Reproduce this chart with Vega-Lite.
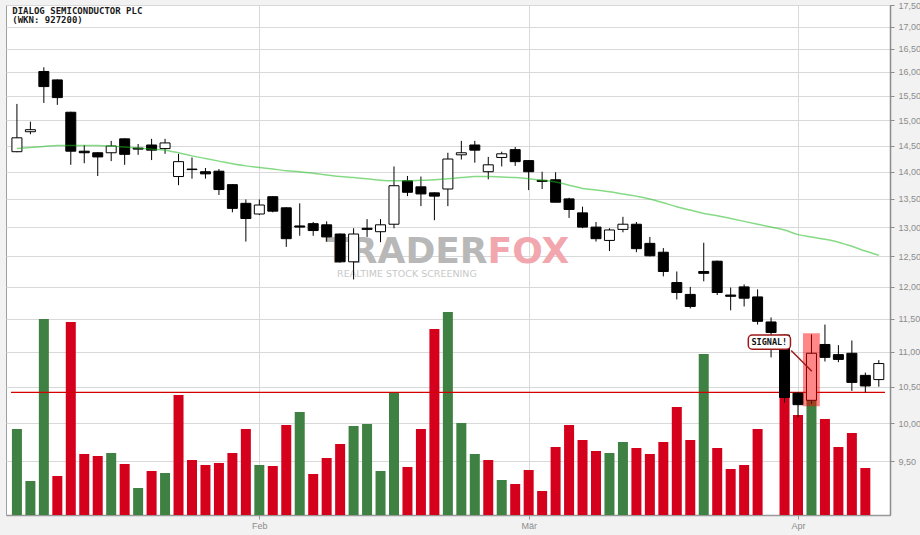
{
  "$schema": "https://vega.github.io/schema/vega-lite/v6.json",
  "width": 884,
  "height": 510,
  "autosize": {"type": "none"},
  "padding": {"left": 6, "top": 5, "right": 30, "bottom": 20},
  "background": "#f2f2f2",
  "config": {
    "view": {"fill": "white", "stroke": "#a0a0a0", "strokeWidth": 1},
    "axis": {"labelFont": "Liberation Sans", "labelFontSize": 9, "labelColor": "#8c8c8c"}
  },
  "datasets": {
    "bars": [
      {"i": 0, "open": 14.38, "high": 15.33, "low": 14.37, "close": 14.65, "ma": 14.44, "vol": 86, "vcol": "up"},
      {"i": 1, "open": 14.77, "high": 14.97, "low": 14.72, "close": 14.81, "ma": 14.46, "vol": 34, "vcol": "up"},
      {"i": 2, "open": 16.01, "high": 16.10, "low": 15.35, "close": 15.69, "ma": 14.48, "vol": 196, "vcol": "up"},
      {"i": 3, "open": 15.83, "high": 15.84, "low": 15.31, "close": 15.46, "ma": 14.5, "vol": 39, "vcol": "down"},
      {"i": 4, "open": 15.16, "high": 15.17, "low": 14.13, "close": 14.39, "ma": 14.5, "vol": 193, "vcol": "down"},
      {"i": 5, "open": 14.39, "high": 14.51, "low": 14.16, "close": 14.36, "ma": 14.5, "vol": 61, "vcol": "down"},
      {"i": 6, "open": 14.36, "high": 14.37, "low": 13.92, "close": 14.28, "ma": 14.5, "vol": 59, "vcol": "down"},
      {"i": 7, "open": 14.36, "high": 14.59, "low": 14.2, "close": 14.49, "ma": 14.49, "vol": 62, "vcol": "up"},
      {"i": 8, "open": 14.63, "high": 14.64, "low": 14.13, "close": 14.33, "ma": 14.47, "vol": 51, "vcol": "down"},
      {"i": 9, "open": 14.45, "high": 14.53, "low": 14.32, "close": 14.43, "ma": 14.45, "vol": 27, "vcol": "up"},
      {"i": 10, "open": 14.51, "high": 14.63, "low": 14.22, "close": 14.41, "ma": 14.43, "vol": 44, "vcol": "down"},
      {"i": 11, "open": 14.44, "high": 14.63, "low": 14.34, "close": 14.55, "ma": 14.41, "vol": 42, "vcol": "up"},
      {"i": 12, "open": 13.91, "high": 14.34, "low": 13.75, "close": 14.19, "ma": 14.36, "vol": 120, "vcol": "down"},
      {"i": 13, "open": 14.05, "high": 14.27, "low": 13.87, "close": 14.04, "ma": 14.3, "vol": 55, "vcol": "down"},
      {"i": 14, "open": 14.0, "high": 14.07, "low": 13.87, "close": 13.96, "ma": 14.25, "vol": 50, "vcol": "down"},
      {"i": 15, "open": 14.01, "high": 14.05, "low": 13.57, "close": 13.67, "ma": 14.2, "vol": 52, "vcol": "down"},
      {"i": 16, "open": 13.76, "high": 13.77, "low": 13.26, "close": 13.33, "ma": 14.15, "vol": 62, "vcol": "down"},
      {"i": 17, "open": 13.42, "high": 13.49, "low": 12.75, "close": 13.15, "ma": 14.11, "vol": 86, "vcol": "down"},
      {"i": 18, "open": 13.23, "high": 13.49, "low": 13.21, "close": 13.39, "ma": 14.08, "vol": 50, "vcol": "up"},
      {"i": 19, "open": 13.54, "high": 13.55, "low": 13.26, "close": 13.28, "ma": 14.05, "vol": 49, "vcol": "down"},
      {"i": 20, "open": 13.34, "high": 13.35, "low": 12.66, "close": 12.8, "ma": 14.02, "vol": 90, "vcol": "down"},
      {"i": 21, "open": 13.02, "high": 13.42, "low": 12.85, "close": 13.0, "ma": 14.0, "vol": 103, "vcol": "up"},
      {"i": 22, "open": 13.06, "high": 13.09, "low": 12.85, "close": 12.94, "ma": 13.97, "vol": 41, "vcol": "down"},
      {"i": 23, "open": 13.04, "high": 13.1, "low": 12.75, "close": 12.83, "ma": 13.94, "vol": 57, "vcol": "down"},
      {"i": 24, "open": 12.88, "high": 12.89, "low": 12.4, "close": 12.41, "ma": 13.91, "vol": 71, "vcol": "down"},
      {"i": 25, "open": 12.41, "high": 12.98, "low": 12.12, "close": 12.88, "ma": 13.89, "vol": 89, "vcol": "up"},
      {"i": 26, "open": 12.98, "high": 13.14, "low": 12.83, "close": 12.96, "ma": 13.87, "vol": 91, "vcol": "up"},
      {"i": 27, "open": 12.92, "high": 13.14, "low": 12.74, "close": 13.04, "ma": 13.84, "vol": 44, "vcol": "up"},
      {"i": 28, "open": 13.05, "high": 14.1, "low": 12.98, "close": 13.74, "ma": 13.83, "vol": 122, "vcol": "up"},
      {"i": 29, "open": 13.83, "high": 13.92, "low": 13.55, "close": 13.62, "ma": 13.83, "vol": 48, "vcol": "down"},
      {"i": 30, "open": 13.72, "high": 13.91, "low": 13.37, "close": 13.59, "ma": 13.84, "vol": 86, "vcol": "down"},
      {"i": 31, "open": 13.61, "high": 13.62, "low": 13.12, "close": 13.55, "ma": 13.85, "vol": 186, "vcol": "down"},
      {"i": 32, "open": 13.68, "high": 14.36, "low": 13.37, "close": 14.24, "ma": 13.87, "vol": 203, "vcol": "up"},
      {"i": 33, "open": 14.32, "high": 14.59, "low": 14.23, "close": 14.36, "ma": 13.89, "vol": 92, "vcol": "up"},
      {"i": 34, "open": 14.51, "high": 14.59, "low": 14.17, "close": 14.41, "ma": 13.91, "vol": 61, "vcol": "up"},
      {"i": 35, "open": 14.0, "high": 14.28, "low": 13.86, "close": 14.13, "ma": 13.91, "vol": 55, "vcol": "down"},
      {"i": 36, "open": 14.27, "high": 14.38, "low": 14.1, "close": 14.34, "ma": 13.9, "vol": 35, "vcol": "up"},
      {"i": 37, "open": 14.42, "high": 14.47, "low": 14.11, "close": 14.19, "ma": 13.89, "vol": 31, "vcol": "down"},
      {"i": 38, "open": 14.21, "high": 14.22, "low": 13.66, "close": 14.0, "ma": 13.87, "vol": 45, "vcol": "down"},
      {"i": 39, "open": 13.84, "high": 14.0, "low": 13.68, "close": 13.82, "ma": 13.84, "vol": 24, "vcol": "down"},
      {"i": 40, "open": 13.85, "high": 13.99, "low": 13.44, "close": 13.44, "ma": 13.81, "vol": 68, "vcol": "down"},
      {"i": 41, "open": 13.5, "high": 13.52, "low": 13.16, "close": 13.31, "ma": 13.75, "vol": 90, "vcol": "down"},
      {"i": 42, "open": 13.25, "high": 13.36, "low": 12.98, "close": 13.0, "ma": 13.69, "vol": 75, "vcol": "down"},
      {"i": 43, "open": 13.0, "high": 13.09, "low": 12.75, "close": 12.8, "ma": 13.66, "vol": 64, "vcol": "down"},
      {"i": 44, "open": 12.77, "high": 12.98, "low": 12.59, "close": 12.95, "ma": 13.63, "vol": 62, "vcol": "up"},
      {"i": 45, "open": 12.96, "high": 13.18, "low": 12.91, "close": 13.05, "ma": 13.59, "vol": 73, "vcol": "up"},
      {"i": 46, "open": 13.05, "high": 13.09, "low": 12.57, "close": 12.63, "ma": 13.55, "vol": 67, "vcol": "down"},
      {"i": 47, "open": 12.72, "high": 12.83, "low": 12.5, "close": 12.51, "ma": 13.5, "vol": 61, "vcol": "down"},
      {"i": 48, "open": 12.57, "high": 12.64, "low": 12.17, "close": 12.25, "ma": 13.43, "vol": 73, "vcol": "down"},
      {"i": 49, "open": 12.07, "high": 12.25, "low": 11.8, "close": 11.91, "ma": 13.36, "vol": 108, "vcol": "down"},
      {"i": 50, "open": 11.88, "high": 12.0, "low": 11.66, "close": 11.69, "ma": 13.3, "vol": 75, "vcol": "down"},
      {"i": 51, "open": 12.25, "high": 12.73, "low": 12.09, "close": 12.22, "ma": 13.24, "vol": 161, "vcol": "up"},
      {"i": 52, "open": 12.42, "high": 12.43, "low": 11.87, "close": 11.91, "ma": 13.2, "vol": 67, "vcol": "down"},
      {"i": 53, "open": 11.87, "high": 11.99, "low": 11.63, "close": 11.85, "ma": 13.15, "vol": 46, "vcol": "down"},
      {"i": 54, "open": 12.0, "high": 12.04, "low": 11.69, "close": 11.82, "ma": 13.1, "vol": 50, "vcol": "down"},
      {"i": 55, "open": 11.84, "high": 11.96, "low": 11.41, "close": 11.46, "ma": 13.05, "vol": 86, "vcol": "down"},
      {"i": 56, "open": 11.45, "high": 11.52, "low": 10.92, "close": 11.29, "ma": 13.0, "vol": null, "vcol": "down"},
      {"i": 57, "open": 11.25, "high": 11.26, "low": 10.28, "close": 10.35, "ma": 12.95, "vol": 150, "vcol": "down"},
      {"i": 58, "open": 10.41, "high": 10.42, "low": 10.08, "close": 10.25, "ma": 12.87, "vol": 100, "vcol": "down"},
      {"i": 59, "open": 10.31, "high": 11.26, "low": 10.26, "close": 10.98, "ma": 12.83, "vol": 118, "vcol": "up"},
      {"i": 60, "open": 11.11, "high": 11.41, "low": 10.86, "close": 10.92, "ma": 12.79, "vol": 96, "vcol": "down"},
      {"i": 61, "open": 10.96, "high": 11.1, "low": 10.85, "close": 10.89, "ma": 12.74, "vol": 68, "vcol": "down"},
      {"i": 62, "open": 10.98, "high": 11.17, "low": 10.44, "close": 10.56, "ma": 12.67, "vol": 82, "vcol": "down"},
      {"i": 63, "open": 10.66, "high": 10.7, "low": 10.42, "close": 10.51, "ma": 12.59, "vol": 47, "vcol": "down"},
      {"i": 64, "open": 10.6, "high": 10.88, "low": 10.5, "close": 10.83, "ma": 12.52, "vol": null, "vcol": "up"}
    ],
    "notes": [
      {"what": "trader", "t": "TRADER", "xi": 34.95, "p": 12.39},
      {"what": "fox", "t": "FOX", "xi": 34.95, "p": 12.39},
      {"what": "sub", "t": "REALTIME STOCK SCREENING", "xi": 28.96, "p": 12.16},
      {"what": "signal", "t": "SIGNAL!", "xi": 55.87, "p": 11.15},
      {"what": "title", "t": "DIALOG SEMICONDUCTOR PLC", "xi": -0.345, "p": 17.29},
      {"what": "title", "t": "(WKN: 927200)", "xi": -0.345, "p": 17.08}
    ],
    "boxes": [
      {"what": "highlight", "x1": 58.37, "x2": 59.62, "p1": 11.28, "p2": 10.23},
      {"what": "label", "x1": 54.31, "x2": 57.44, "p1": 11.25, "p2": 11.04}
    ],
    "lines": [
      {"what": "level", "x1": -0.44, "x2": 64.46, "p1": 10.42, "p2": 10.42},
      {"what": "pointer", "x1": 57.49, "x2": 59.03, "p1": 11.02, "p2": 10.72}
    ]
  },
  "layer": [
    {
      "data": {"name": "notes"},
      "transform": [{"filter": "datum.what == 'trader'"}],
      "mark": {"type": "text", "font": "DejaVu Sans", "fontWeight": "bold", "fontSize": 36, "align": "right", "baseline": "alphabetic", "color": "#b8b8b8"},
      "encoding": {
        "x": {"field": "xi", "type": "quantitative", "axis": {"title": null}},
        "y": {"field": "p", "type": "quantitative", "scale": {"type": "log", "domain": [8.843, 17.5], "nice": false, "zero": false}, "axis": null},
        "text": {"field": "t"}
      }
    },
    {
      "data": {"name": "notes"},
      "transform": [{"filter": "datum.what == 'fox'"}],
      "mark": {"type": "text", "font": "DejaVu Sans", "fontWeight": "bold", "fontSize": 36, "align": "left", "baseline": "alphabetic", "color": "#f2a7ae"},
      "encoding": {
        "x": {"field": "xi", "type": "quantitative", "axis": {"title": null}},
        "y": {"field": "p", "type": "quantitative", "scale": {"type": "log", "domain": [8.843, 17.5], "nice": false, "zero": false}, "axis": null},
        "text": {"field": "t"}
      }
    },
    {
      "data": {"name": "notes"},
      "transform": [{"filter": "datum.what == 'sub'"}],
      "mark": {"type": "text", "font": "DejaVu Sans", "fontSize": 9.5, "align": "center", "baseline": "alphabetic", "color": "#c8c8c8"},
      "encoding": {
        "x": {"field": "xi", "type": "quantitative", "axis": {"title": null}},
        "y": {"field": "p", "type": "quantitative", "scale": {"type": "log", "domain": [8.843, 17.5], "nice": false, "zero": false}, "axis": null},
        "text": {"field": "t"}
      }
    },
    {
      "data": {"name": "bars"},
      "mark": {"type": "bar", "size": 10},
      "encoding": {
        "x": {"field": "i", "type": "quantitative", "axis": {"title": null}},
        "y": {"field": "vol", "type": "quantitative", "scale": {"domain": [0, 510], "nice": false}, "axis": null},
        "color": {"field": "vcol", "type": "nominal", "scale": {"domain": ["up", "down"], "range": ["#3e8142", "#d5001c"]}, "legend": null}
      }
    },
    {
      "data": {"name": "lines"},
      "transform": [{"filter": "datum.what == 'level'"}],
      "mark": {"type": "rule", "color": "#d40000", "strokeWidth": 1.2},
      "encoding": {
        "x": {"field": "x1", "type": "quantitative", "axis": {"title": null}},
        "x2": {"field": "x2"},
        "y": {"field": "p1", "type": "quantitative", "scale": {"type": "log", "domain": [8.843, 17.5], "nice": false, "zero": false}, "axis": null},
        "y2": {"field": "p2"}
      }
    },
    {
      "data": {"name": "bars"},
      "mark": {"type": "rule", "color": "black", "strokeWidth": 1},
      "encoding": {
        "x": {
          "field": "i", "type": "quantitative",
          "scale": {"domain": [-0.44, 64.46], "nice": false, "zero": false},
          "axis": {
            "values": [18, 38, 58],
            "labelExpr": "datum.value == 18 ? 'Feb' : datum.value == 38 ? 'Mär' : 'Apr'",
            "title": null, "grid": true, "gridColor": "#d9d9d9",
            "tickColor": "#999999", "tickSize": 4, "domainColor": "#999999", "domainWidth": 1.5,
            "labelPadding": 2, "labelFlush": false, "labelOverlap": false
          }
        },
        "y": {"field": "low", "type": "quantitative", "scale": {"type": "log", "domain": [8.843, 17.5], "nice": false, "zero": false}, "axis": {
          "orient": "right",
          "values": [9.5, 10, 10.5, 11, 11.5, 12, 12.5, 13, 13.5, 14, 14.5, 15, 15.5, 16, 16.5, 17, 17.5],
          "labelExpr": "replace(format(datum.value, '.2f'), '.', ',')",
          "title": null, "grid": true, "gridColor": "#d9d9d9",
          "domainColor": "#8c8c8c", "domainWidth": 1.5, "tickColor": "#8c8c8c", "tickSize": 4,
          "labelPadding": 4, "labelBaseline": "middle", "labelOverlap": false, "labelBound": false, "labelFlush": false
        }},
        "y2": {"field": "high"}
      }
    },
    {
      "data": {"name": "bars"},
      "mark": {"type": "bar", "size": 10, "stroke": "black", "strokeWidth": 1},
      "encoding": {
        "x": {"field": "i", "type": "quantitative", "axis": {"title": null}},
        "y": {"field": "open", "type": "quantitative", "scale": {"type": "log", "domain": [8.843, 17.5], "nice": false, "zero": false}, "axis": null},
        "y2": {"field": "close"},
        "fill": {"condition": {"test": "datum.close > datum.open", "value": "white"}, "value": "black"}
      }
    },
    {
      "data": {"name": "bars"},
      "mark": {"type": "line", "color": "#22bb22", "opacity": 0.55, "strokeWidth": 1.5, "interpolate": "monotone"},
      "encoding": {
        "x": {"field": "i", "type": "quantitative", "axis": {"title": null}},
        "y": {"field": "ma", "type": "quantitative", "scale": {"type": "log", "domain": [8.843, 17.5], "nice": false, "zero": false}, "axis": null}
      }
    },
    {
      "data": {"name": "boxes"},
      "transform": [{"filter": "datum.what == 'highlight'"}],
      "mark": {"type": "rect", "color": "#ff0000", "opacity": 0.47},
      "encoding": {
        "x": {"field": "x1", "type": "quantitative", "axis": {"title": null}},
        "x2": {"field": "x2"},
        "y": {"field": "p1", "type": "quantitative", "scale": {"type": "log", "domain": [8.843, 17.5], "nice": false, "zero": false}, "axis": null},
        "y2": {"field": "p2"}
      }
    },
    {
      "data": {"name": "lines"},
      "transform": [{"filter": "datum.what == 'pointer'"}],
      "mark": {"type": "rule", "color": "#9e1a1a", "strokeWidth": 1.5},
      "encoding": {
        "x": {"field": "x1", "type": "quantitative", "axis": {"title": null}},
        "x2": {"field": "x2"},
        "y": {"field": "p1", "type": "quantitative", "scale": {"type": "log", "domain": [8.843, 17.5], "nice": false, "zero": false}, "axis": null},
        "y2": {"field": "p2"}
      }
    },
    {
      "data": {"name": "boxes"},
      "transform": [{"filter": "datum.what == 'label'"}],
      "mark": {"type": "rect", "fill": "white", "stroke": "#9e1a1a", "strokeWidth": 1.5, "cornerRadius": 4},
      "encoding": {
        "x": {"field": "x1", "type": "quantitative", "axis": {"title": null}},
        "x2": {"field": "x2"},
        "y": {"field": "p1", "type": "quantitative", "scale": {"type": "log", "domain": [8.843, 17.5], "nice": false, "zero": false}, "axis": null},
        "y2": {"field": "p2"}
      }
    },
    {
      "data": {"name": "notes"},
      "transform": [{"filter": "datum.what == 'signal'"}],
      "mark": {"type": "text", "font": "DejaVu Sans Mono", "fontWeight": "bold", "fontSize": 8.5, "align": "center", "baseline": "middle", "color": "#111111"},
      "encoding": {
        "x": {"field": "xi", "type": "quantitative", "axis": {"title": null}},
        "y": {"field": "p", "type": "quantitative", "scale": {"type": "log", "domain": [8.843, 17.5], "nice": false, "zero": false}, "axis": null},
        "text": {"field": "t"}
      }
    },
    {
      "data": {"name": "notes"},
      "transform": [{"filter": "datum.what == 'title'"}],
      "mark": {"type": "text", "font": "DejaVu Sans Mono", "fontWeight": "bold", "fontSize": 9, "align": "left", "baseline": "alphabetic", "color": "#1a1a1a"},
      "encoding": {
        "x": {"field": "xi", "type": "quantitative", "axis": {"title": null}},
        "y": {"field": "p", "type": "quantitative", "scale": {"type": "log", "domain": [8.843, 17.5], "nice": false, "zero": false}, "axis": null},
        "text": {"field": "t"}
      }
    }
  ],
  "resolve": {"scale": {"y": "independent"}}
}
